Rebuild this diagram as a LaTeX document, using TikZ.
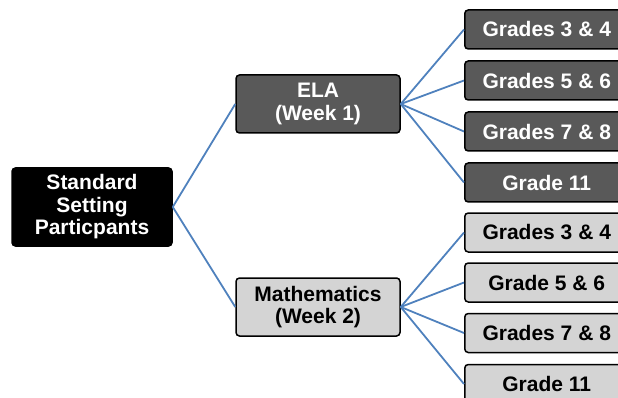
\documentclass[tikz,border=0pt]{standalone}
\usepackage{fontspec}
\setmainfont{Liberation Sans}
\definecolor{linkblue}{RGB}{79,129,189}
\definecolor{darkfill}{RGB}{89,89,89}
\definecolor{lightfill}{RGB}{212,212,212}
\tikzset{
  box/.style={rectangle, rounded corners=3.5pt, draw=black, line width=1.5pt,
    align=center, inner sep=0pt, font=\fontsize{21}{22.5}\selectfont\bfseries},
  rootbox/.style={box, fill=black, text=white, minimum width=160pt, minimum height=78pt},
  subdark/.style={box, fill=darkfill, text=white, minimum width=164pt, minimum height=58pt},
  sublight/.style={box, fill=lightfill, text=black, minimum width=164pt, minimum height=58pt},
  gradedark/.style={box, fill=darkfill, text=white, minimum width=164pt, minimum height=39pt, anchor=west},
  gradelight/.style={box, fill=lightfill, text=black, minimum width=164pt, minimum height=39pt, anchor=west},
  link/.style={draw=linkblue, line width=1.8pt}
}
\begin{document}
\begin{tikzpicture}[x=1pt,y=-1pt]
\useasboundingbox (0,0) rectangle (618,398);
\clip (0,0) rectangle (618,398);
\node[rootbox] (root) at (92,207) {Standard\\Setting\\Particpants};
\node[subdark] (ela) at (318,104) {ELA\\(Week 1)};
\node[sublight] (math) at (318,307) {Mathematics\\(Week 2)};
\node[gradedark] (e1) at (464,29.5) {Grades 3 \& 4};
\node[gradedark] (e2) at (464,80.5) {Grades 5 \& 6};
\node[gradedark] (e3) at (464,131.5) {Grades 7 \& 8};
\node[gradedark] (e4) at (464,182.5) {Grade 11};
\node[gradelight] (m1) at (464,232.5) {Grades 3 \& 4};
\node[gradelight] (m2) at (464,282.5) {Grade 5 \& 6};
\node[gradelight] (m3) at (464,333) {Grades 7 \& 8};
\node[gradelight] (m4) at (464,384) {Grade 11};
\draw[link] (root.east) -- (ela.west);
\draw[link] (root.east) -- (math.west);
\foreach \g in {e1,e2,e3,e4} \draw[link] (ela.east) -- (\g.west);
\foreach \g in {m1,m2,m3,m4} \draw[link] (math.east) -- (\g.west);
\end{tikzpicture}
\end{document}
